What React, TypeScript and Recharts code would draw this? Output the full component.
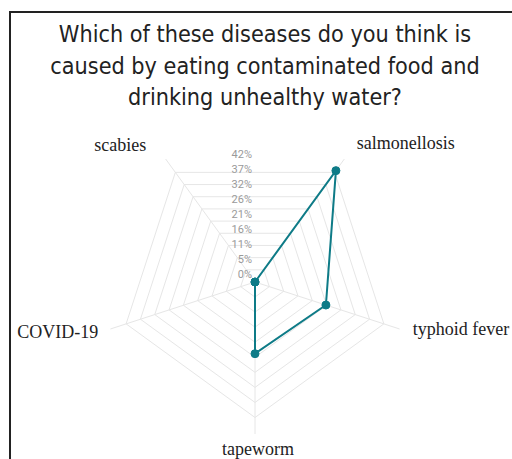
import { RadarChart, Radar, PolarGrid, PolarAngleAxis, PolarRadiusAxis } from "recharts";

const categories = ["salmonellosis", "typhoid fever", "tapeworm", "COVID-19", "scabies"];
const shares = [48, 26, 25, 0, 0];

// radius ticks (the last ring has no label in the original)
const radiusTicks = [0, 5.25, 10.5, 15.75, 21, 26.25, 31.5, 36.75, 42, 47.25];
const radiusTickLabels = ["0%", "5%", "11%", "16%", "21%", "26%", "32%", "37%", "42%", ""];

const data = categories.map((name, i) => ({ name, value: shares[i] }));

const CX = 255;
const CY = 282;
const OUTER = 152;
const LABEL_R = 168;
const RAD = Math.PI / 180;
const TEAL = "#0e7b87";

// small hand nudges so the labels sit where the original has them
const labelNudge: Record<string, [number, number]> = {
    salmonellosis: [3, -3],
    scabies: [-10, -1],
    "typhoid fever": [-2, -5],
    "COVID-19": [3, -2],
    tapeworm: [3, -1],
};

const AngleTick = ({ payload }: any) => {
    const angle = payload.coordinate;
    const cos = Math.cos(-angle * RAD);
    const sin = Math.sin(-angle * RAD);
    const [nx, ny] = labelNudge[payload.value] || [0, 0];
    const x = CX + LABEL_R * cos + nx;
    const y = CY + LABEL_R * sin + ny;
    const anchor = cos > 0.1 ? "start" : cos < -0.1 ? "end" : "middle";
    return (
        <text x={x} y={y} dy="0.35em" textAnchor={anchor} fontSize={18} fill="#222" fontFamily="'Liberation Serif', 'Times New Roman', serif">
            {payload.value}
        </text>
    );
};

const RadiusTick = ({ x, y, payload }: any) => {
    const idx = radiusTicks.indexOf(payload.value);
    const label = idx >= 0 ? radiusTickLabels[idx] : "";
    if (!label) return null;
    return (
        <text x={x - 3} y={y - 4} textAnchor="end" fontSize={11} fill="#9a9a9a" fontFamily="Roboto, sans-serif">
            {label}
        </text>
    );
};

export default function App() {
    return (
        <div style={{ position: "relative", width: 512, height: 459, overflow: "hidden", background: "#fff" }}>
            <style>{"body{margin:0}"}</style>
            <div
                style={{
                    position: "absolute",
                    left: 9,
                    top: 11,
                    width: 520,
                    height: 470,
                    border: "2px solid #222",
                    boxSizing: "border-box",
                }}
            />
            <div
                style={{
                    position: "absolute",
                    left: 9,
                    top: 18,
                    width: 512,
                    textAlign: "center",
                    fontFamily: "'DejaVu Sans Condensed', sans-serif",
                    fontSize: 23.2,
                    lineHeight: "31.7px",
                    color: "#222",
                }}
            >
                Which of these diseases do you think is
                <br />
                caused by eating contaminated food and
                <br />
                drinking unhealthy water?
            </div>
            <div style={{ position: "absolute", left: 0, top: 0 }}>
                <RadarChart width={512} height={459} data={data} cx={CX} cy={CY} outerRadius={OUTER} startAngle={54} endAngle={-306}>
                    <PolarGrid gridType="polygon" stroke="#e6e6e6" strokeWidth={1} />
                    <PolarAngleAxis dataKey="name" tick={<AngleTick />} tickLine={false} axisLine={false} />
                    <PolarRadiusAxis
                        angle={90}
                        type="number"
                        domain={[0, 52.5]}
                        ticks={radiusTicks}
                        allowDataOverflow
                        tick={<RadiusTick />}
                        axisLine={false}
                        tickLine={false}
                    />
                    <Radar
                        dataKey="value"
                        stroke={TEAL}
                        strokeWidth={2}
                        fill={TEAL}
                        fillOpacity={0}
                        dot={{ r: 4, fill: TEAL, stroke: TEAL, strokeWidth: 1, fillOpacity: 1 }}
                        isAnimationActive={false}
                    />
                </RadarChart>
            </div>
        </div>
    );
}
